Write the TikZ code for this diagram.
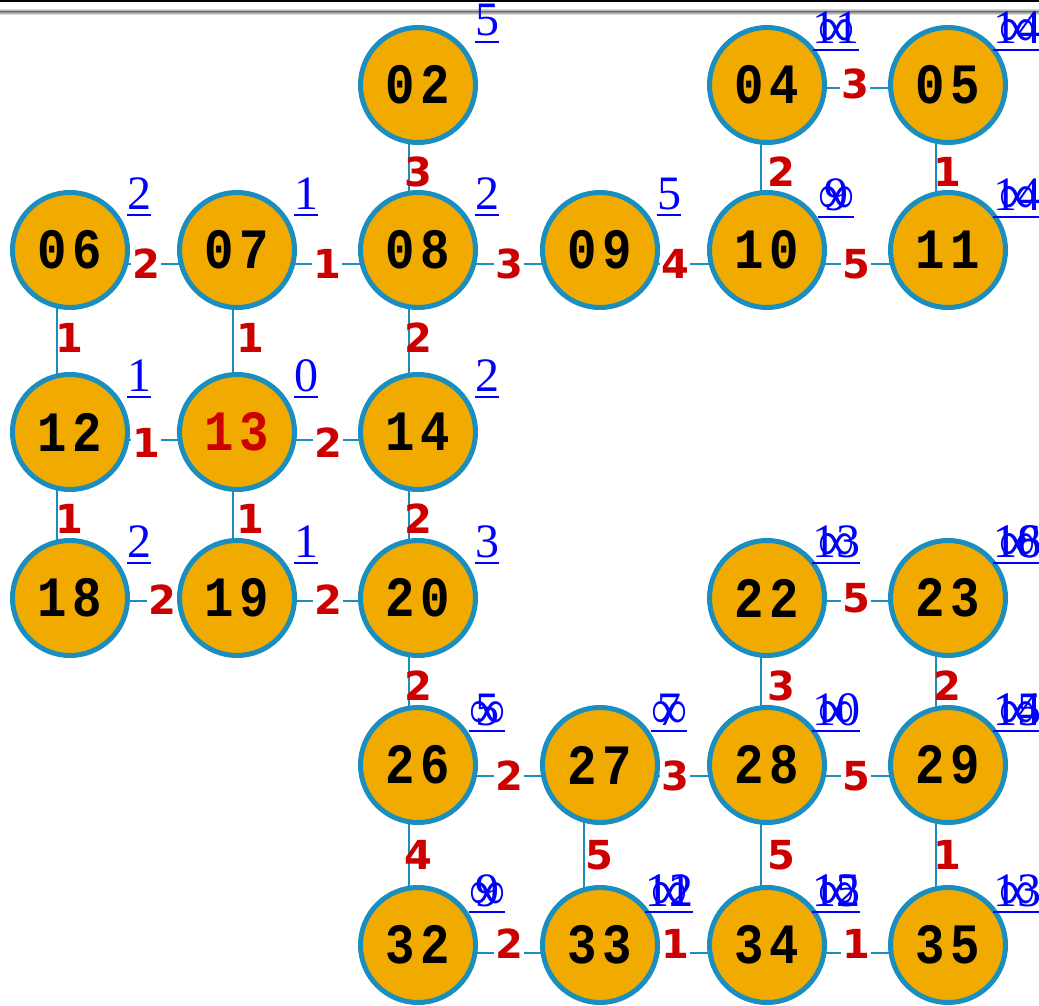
\documentclass[tikz,border=0pt]{standalone}
\usepackage{fontspec}
\setmainfont{Liberation Serif}
\newfontfamily\nodefont[FakeStretch=0.86, LetterSpace=10]{Liberation Mono}
\newfontfamily\edgefont{DejaVu Sans}
\usetikzlibrary{backgrounds,calc}
\definecolor{ringblue}{RGB}{26,142,190}
\definecolor{nodeorange}{RGB}{240,170,0}
\definecolor{wred}{RGB}{204,0,0}
\definecolor{dblue}{RGB}{0,0,255}
\tikzset{
  vtx/.style={circle, draw=ringblue, line width=5pt, fill=nodeorange,
    minimum size=115pt, inner sep=0pt,
    font=\nodefont\bfseries\fontsize{57}{57}\selectfont, text=black},
  wt/.style={font=\edgefont\bfseries\fontsize{40}{40}\selectfont,
    text=wred, fill=white, inner sep=1.5pt},
  wtv/.style={font=\edgefont\bfseries\fontsize{40}{40}\selectfont,
    text=wred, inner sep=0pt},
  edgeline/.style={draw=ringblue, line width=2.5pt},
  dist/.style={font=\fontsize{48}{48}\selectfont, text=dblue,
    inner sep=0pt, anchor=base},
  uline/.style={draw=dblue, line width=2pt}
}
\newcommand\distlab[4]{%
  \node[dist] (#1) at (#2,#3-6) {#4};
  \draw[uline] ([yshift=-6pt]#1.base west) -- ([yshift=-6pt]#1.base east);
}
\newcommand\infsym{\raisebox{-3pt}{\resizebox{36pt}{27pt}{∞}}}
\newcommand\ovtwo[2]{\ooalign{\hfil#1\hfil\cr\hfil#2\hfil\cr}}
\newcommand\ovthree[3]{\ooalign{\hfil#1\hfil\cr\hfil#2\hfil\cr\hfil#3\hfil\cr}}
\begin{document}
\begin{tikzpicture}[x=1pt,y=-1pt]
\useasboundingbox (0,0) rectangle (1039,1006);
\clip (0,0) rectangle (1039,1006);
% top bar
\fill[black] (0,0) rectangle (1039,2);
\shade[top color=white, bottom color=gray] (0,8) rectangle (1039,11.5);
\shade[top color=gray, bottom color=white] (0,11.5) rectangle (1039,15);
% vertices
\node[vtx] (n02) at (418,85) {02};
\node[vtx] (n04) at (767,85) {04};
\node[vtx] (n05) at (948,85) {05};
\node[vtx] (n06) at (70,250) {06};
\node[vtx] (n07) at (237,250) {07};
\node[vtx] (n08) at (418,250) {08};
\node[vtx] (n09) at (600,250) {09};
\node[vtx] (n10) at (767,250) {10};
\node[vtx] (n11) at (948,250) {11};
\node[vtx] (n12) at (70,432) {12};
\node[vtx, text=wred] (n13) at (237,432) {13};
\node[vtx] (n14) at (418,432) {14};
\node[vtx] (n18) at (70,598) {18};
\node[vtx] (n19) at (237,598) {19};
\node[vtx] (n20) at (418,598) {20};
\node[vtx] (n22) at (767,598) {22};
\node[vtx] (n23) at (948,598) {23};
\node[vtx] (n26) at (418,765) {26};
\node[vtx] (n27) at (600,765) {27};
\node[vtx] (n28) at (767,765) {28};
\node[vtx] (n29) at (948,765) {29};
\node[vtx] (n32) at (418,945) {32};
\node[vtx] (n33) at (600,945) {33};
\node[vtx] (n34) at (767,945) {34};
\node[vtx] (n35) at (948,945) {35};
% edges (background)
\begin{pgfonlayer}{background}
% horizontal
\draw[edgeline] ($(n04.center)+(0,3)$) -- ($(n05.center)+(0,3)$);
\draw[edgeline] ($(n06.center)+(0,14)$) -- ($(n07.center)+(0,14)$);
\draw[edgeline] ($(n07.center)+(0,14)$) -- ($(n08.center)+(0,14)$);
\draw[edgeline] ($(n08.center)+(0,14)$) -- ($(n09.center)+(0,14)$);
\draw[edgeline] ($(n09.center)+(0,14)$) -- ($(n10.center)+(0,14)$);
\draw[edgeline] ($(n10.center)+(0,14)$) -- ($(n11.center)+(0,14)$);
\draw[edgeline] ($(n12.center)+(0,8)$) -- ($(n13.center)+(0,8)$);
\draw[edgeline] ($(n13.center)+(0,8)$) -- ($(n14.center)+(0,8)$);
\draw[edgeline] ($(n18.center)+(0,3)$) -- ($(n19.center)+(0,3)$);
\draw[edgeline] ($(n19.center)+(0,3)$) -- ($(n20.center)+(0,3)$);
\draw[edgeline] ($(n22.center)+(0,3)$) -- ($(n23.center)+(0,3)$);
\draw[edgeline] ($(n26.center)+(0,11)$) -- ($(n27.center)+(0,11)$);
\draw[edgeline] ($(n27.center)+(0,11)$) -- ($(n28.center)+(0,11)$);
\draw[edgeline] ($(n28.center)+(0,11)$) -- ($(n29.center)+(0,11)$);
\draw[edgeline] ($(n32.center)+(0,8)$) -- ($(n33.center)+(0,8)$);
\draw[edgeline] ($(n33.center)+(0,8)$) -- ($(n34.center)+(0,8)$);
\draw[edgeline] ($(n34.center)+(0,8)$) -- ($(n35.center)+(0,8)$);
% vertical
\draw[edgeline] ($(n02.center)+(-9,0)$) -- ($(n08.center)+(-9,0)$);
\draw[edgeline] ($(n04.center)+(-6,0)$) -- ($(n10.center)+(-6,0)$);
\draw[edgeline] ($(n05.center)+(-12,0)$) -- ($(n11.center)+(-12,0)$);
\draw[edgeline] ($(n06.center)+(-13,0)$) -- ($(n12.center)+(-13,0)$);
\draw[edgeline] ($(n07.center)+(-4,0)$) -- ($(n13.center)+(-4,0)$);
\draw[edgeline] ($(n08.center)+(-9,0)$) -- ($(n14.center)+(-9,0)$);
\draw[edgeline] ($(n12.center)+(-13,0)$) -- ($(n18.center)+(-13,0)$);
\draw[edgeline] ($(n13.center)+(-4,0)$) -- ($(n19.center)+(-4,0)$);
\draw[edgeline] ($(n14.center)+(-9,0)$) -- ($(n20.center)+(-9,0)$);
\draw[edgeline] ($(n20.center)+(-9,0)$) -- ($(n26.center)+(-9,0)$);
\draw[edgeline] ($(n22.center)+(-6,0)$) -- ($(n28.center)+(-6,0)$);
\draw[edgeline] ($(n23.center)+(-12,0)$) -- ($(n29.center)+(-12,0)$);
\draw[edgeline] ($(n26.center)+(-9,0)$) -- ($(n32.center)+(-9,0)$);
\draw[edgeline] ($(n27.center)+(-16,0)$) -- ($(n33.center)+(-16,0)$);
\draw[edgeline] ($(n28.center)+(-6,0)$) -- ($(n34.center)+(-6,0)$);
\draw[edgeline] ($(n29.center)+(-12,0)$) -- ($(n35.center)+(-12,0)$);
\end{pgfonlayer}
% horizontal weights
\node[wt] (w0405) at (855,84) {3};
\node[wt] (w0607) at (146,264) {2};
\node[wt] (w0708) at (327,264) {1};
\node[wt] (w0809) at (509,264) {3};
\node[wt] (w0910) at (675,264) {4};
\node[wt] (w1011) at (856,264) {5};
\node[wt] (w1213) at (146,443) {1};
\node[wt] (w1314) at (328,443) {2};
\node[wt] (w1819) at (162,600) {2};
\node[wt] (w1920) at (328,600) {2};
\node[wt] (w2223) at (856,598) {5};
\node[wt] (w2627) at (509,776) {2};
\node[wt] (w2728) at (675,776) {3};
\node[wt] (w2829) at (856,776) {5};
\node[wt] (w3233) at (509,944) {2};
\node[wt] (w3334) at (675,944) {1};
\node[wt] (w3435) at (856,944) {1};
% vertical weights
\node[wtv] (w0208) at (418,172) {3};
\node[wtv] (w0410) at (781,172) {2};
\node[wtv] (w0511) at (947,172) {1};
\node[wtv] (w0612) at (69,338) {1};
\node[wtv] (w0713) at (250,338) {1};
\node[wtv] (w0814) at (418,338) {2};
\node[wtv] (w1218) at (69,519) {1};
\node[wtv] (w1319) at (250,519) {1};
\node[wtv] (w1420) at (418,519) {2};
\node[wtv] (w2026) at (418,686) {2};
\node[wtv] (w2228) at (781,686) {3};
\node[wtv] (w2329) at (947,686) {2};
\node[wtv] (w2632) at (418,855) {4};
\node[wtv] (w2733) at (599,855) {5};
\node[wtv] (w2834) at (781,855) {5};
\node[wtv] (w2935) at (947,855) {1};
% distance labels
\distlab{d02}{487}{42}{5}
\distlab{d04}{836}{50}{\ovtwo{11}{\infsym}}
\distlab{d05}{1017}{50}{\ovtwo{14}{\infsym}}
\distlab{d06}{139}{215}{2}
\distlab{d07}{306}{215}{1}
\distlab{d08}{487}{215}{2}
\distlab{d09}{669}{215}{5}
\distlab{d10}{836}{217}{\ovtwo{9}{\infsym}}
\distlab{d11}{1017}{217}{\ovtwo{14}{\infsym}}
\distlab{d12}{139}{397}{1}
\distlab{d13}{306}{397}{0}
\distlab{d14}{487}{397}{2}
\distlab{d18}{139}{563}{2}
\distlab{d19}{306}{563}{1}
\distlab{d20}{487}{563}{3}
\distlab{d22}{836}{563}{\ovtwo{13}{\infsym}}
\distlab{d23}{1017}{563}{\ovthree{18}{16}{\infsym}}
\distlab{d26}{487}{731}{\ovtwo{5}{\infsym}}
\distlab{d27}{669}{731}{\ovtwo{7}{\infsym}}
\distlab{d28}{836}{731}{\ovtwo{10}{\infsym}}
\distlab{d29}{1017}{731}{\ovthree{15}{14}{\infsym}}
\distlab{d32}{487}{912}{\ovtwo{9}{\infsym}}
\distlab{d33}{669}{912}{\ovthree{12}{11}{\infsym}}
\distlab{d34}{836}{912}{\ovthree{15}{12}{\infsym}}
\distlab{d35}{1017}{912}{\ovtwo{13}{\infsym}}
\end{tikzpicture}
\end{document}
